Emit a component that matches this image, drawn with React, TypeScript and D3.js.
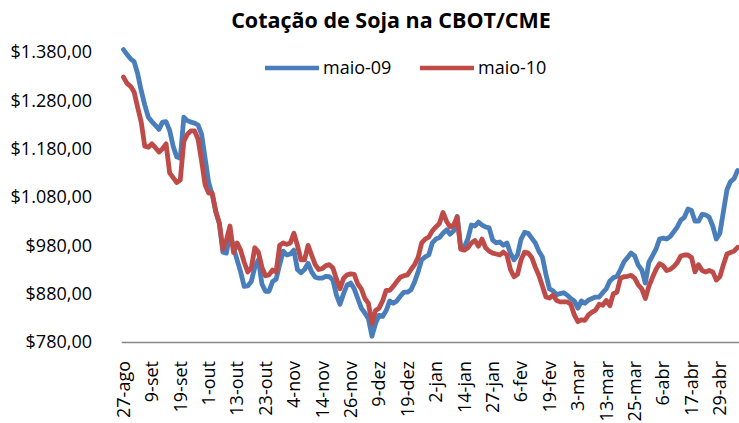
import React from "react";
import * as d3 from "d3";

// tick labels: one every 8 trading days starting at 27-ago
const tickLabels = [
  "27-ago", "9-set", "19-set", "1-out", "13-out", "23-out", "4-nov", "14-nov",
  "26-nov", "9-dez", "19-dez", "2-jan", "14-jan", "27-jan", "6-fev", "19-fev",
  "3-mar", "13-mar", "25-mar", "6-abr", "17-abr", "29-abr",
];
const tickStep = 8;

const maio09 = [
  1385, 1375, 1366, 1360, 1335, 1300, 1270, 1245, 1236, 1228,
  1220, 1235, 1236, 1218, 1185, 1163, 1160, 1245, 1238, 1235,
  1233, 1229, 1210, 1160, 1110, 1085, 1050, 1025, 966, 964,
  1005, 975, 950, 925, 895, 896, 905, 935, 950, 900,
  885, 885, 905, 910, 940, 968, 960, 962, 970, 930,
  923, 930, 943, 925, 914, 912, 912, 916, 915, 908,
  877, 858, 880, 898, 902, 890, 870, 850, 840, 828,
  792, 818, 835, 833, 845, 865, 860, 865, 875, 883,
  883, 888, 904, 925, 950, 956, 960, 985, 993, 996,
  1005, 1012, 1003, 1010, 1040, 975, 976, 993, 1022, 1020,
  1028, 1022, 1018, 1016, 991, 985, 987, 980, 985, 964,
  950, 960, 993, 1007, 1005, 995, 985, 968, 956, 920,
  890, 886, 878, 880, 882, 877, 870, 865, 850, 865,
  860, 867, 870, 873, 873, 882, 890, 906, 913, 916,
  930, 946, 955, 964, 958, 939, 929, 902, 945, 958,
  972, 993, 995, 993, 998, 1008, 1018, 1032, 1038, 1055,
  1052, 1030, 1030, 1044, 1043, 1038, 1020, 993, 1005, 1050,
  1095, 1112, 1118, 1135,
];

const maio10 = [
  1328, 1315, 1309, 1297, 1265, 1235, 1185, 1183, 1190, 1182,
  1173, 1180, 1190, 1130, 1120, 1110, 1115, 1195, 1210, 1217,
  1217, 1200, 1155, 1105, 1088, 1088, 1050, 1026, 972, 991,
  1020, 965, 985, 970, 945, 925, 933, 975, 966, 935,
  917, 919, 929, 925, 980, 985, 982, 985, 1005, 980,
  950, 950, 980, 960, 940, 930, 932, 938, 940, 933,
  910, 890, 912, 919, 921, 920, 900, 890, 870, 860,
  818, 845, 850, 865, 887, 887, 895, 905, 914, 917,
  919, 930, 940, 955, 985, 993, 997, 1010, 1018, 1025,
  1048, 1030, 1018, 1022, 1038, 972, 970, 975, 985, 990,
  978, 993, 975, 968, 964, 962, 960, 966, 960, 930,
  915, 920, 950, 966, 964, 955, 935, 918, 896, 873,
  871, 877, 866, 863, 863, 863, 858, 836, 822, 826,
  825, 836, 842, 846, 858, 856, 866, 855, 880, 883,
  912, 915, 916, 918, 912, 898, 890, 870, 895, 913,
  930, 942, 938, 928, 930, 936, 944, 958, 960, 960,
  955, 925, 940, 928, 925, 928, 925, 908, 915, 940,
  962, 965, 968, 976,
];

const yTicks = [780, 880, 980, 1080, 1180, 1280, 1380];

const series = [
  { name: "maio-09", values: maio09, color: "#4a7ebb" },
  { name: "maio-10", values: maio10, color: "#be4b48" },
];

const W = 739;
const H = 423;
const FONT = "'Open Sans', sans-serif";

const App = () => {
  const n = maio09.length;
  const left = 121.7;
  const step = 3.55;
  const x = d3.scaleLinear().domain([-0.5, n - 0.5]).range([left, left + step * n]);
  const y = d3.scaleLinear().domain([780, 1380]).range([342, 52]);

  const line = d3
    .line<number>()
    .x((_, i) => x(i))
    .y((d) => y(d));

  const fmt = (v: number) => "$" + d3.format(",.2f")(v).replace(/,/g, "#").replace(".", ",").replace(/#/g, ".");

  return (
    <svg width={W} height={H} style={{ display: "block", position: "absolute", left: 0, top: 0 }} fontFamily={FONT}>
      <rect width={W} height={H} fill="#fff" />
      <text x={391} y={28} textAnchor="middle" fontSize={21.5} fontWeight="bold" fill="#000">
        Cotação de Soja na CBOT/CME
      </text>

      {/* legend */}
      {series.map((s, k) => {
        const lx = k === 0 ? 265 : 420;
        return (
          <g key={s.name}>
            <line x1={lx} x2={lx + 54} y1={68} y2={68} stroke={s.color} strokeWidth={4.5} />
            <text x={lx + 58} y={68} dy="0.35em" fontSize={18} fill="#000">
              {s.name}
            </text>
          </g>
        );
      })}

      {/* y labels */}
      {yTicks.map((t) => (
        <text key={t} x={92} y={y(t)} dy="0.35em" textAnchor="end" fontSize={18} fill="#000">
          {fmt(t)}
        </text>
      ))}

      {/* x axis */}
      <line x1={left} x2={W} y1={342.5} y2={342.5} stroke="#868686" strokeWidth={1.5} />
      {tickLabels.map((lab, k) => {
        const cx = x(k * tickStep);
        return (
          <text
            key={lab}
            transform={`translate(${cx},361) rotate(-90)`}
            textAnchor="end"
            dy="0.35em"
            fontSize={18}
            fill="#000"
          >
            {lab}
          </text>
        );
      })}

      {/* series */}
      {series.map((s) => (
        <path
          key={s.name}
          d={line(s.values) || ""}
          fill="none"
          stroke={s.color}
          strokeWidth={4.8}
          strokeLinejoin="round"
          strokeLinecap="round"
        />
      ))}
    </svg>
  );
};

export default App;
